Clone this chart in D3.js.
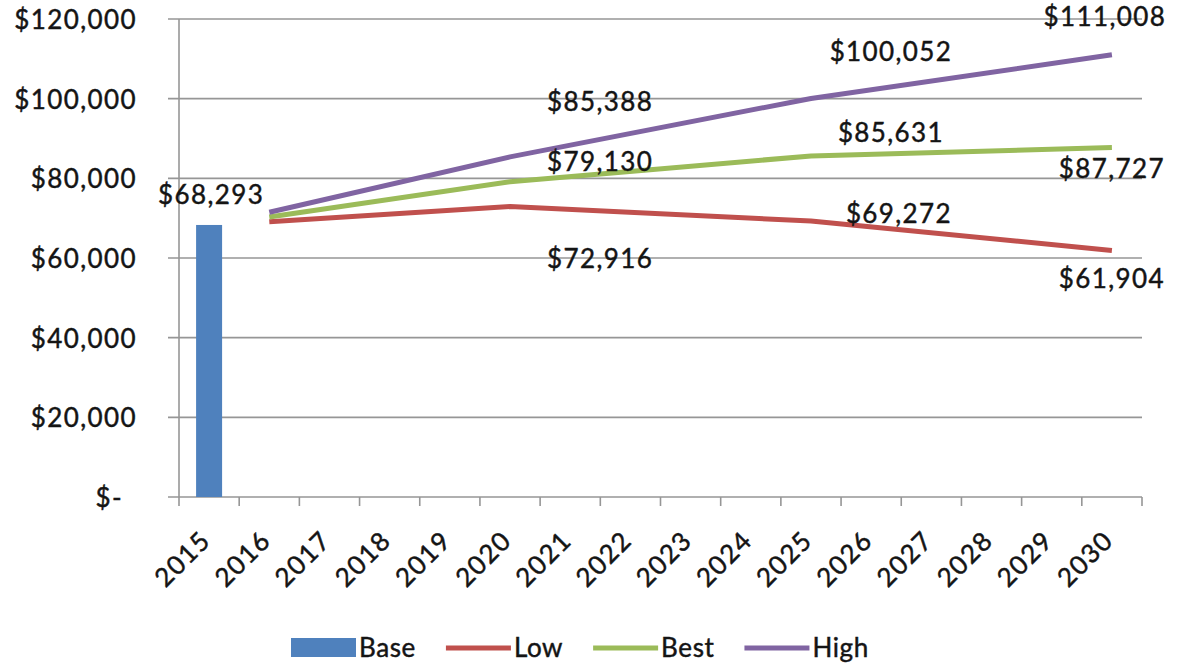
<!DOCTYPE html>
<html>
<head>
<meta charset="utf-8">
<script src="https://cdn.jsdelivr.net/npm/d3@7"></script>
<style>
  html, body { margin: 0; padding: 0; background: #fff; }
  svg { display: block; }
  text { font-family: Lato, "Open Sans", sans-serif; fill: #141414; stroke: #141414; stroke-width: 0.45px; }
</style>
</head>
<body>
<svg id="chart" width="1178" height="664"></svg>
<script>
// Categories (years on the x axis)
const years = ["2015","2016","2017","2018","2019","2020","2021","2022","2023",
               "2024","2025","2026","2027","2028","2029","2030"];

// Base year column
const baseYears = ["2015"];
const baseValues = [68293];

// Projection scenarios (points where the series is defined)
const lineYears = ["2016", "2020", "2025", "2030"];
const lowValues  = [69100, 72916, 69272, 61904];
const bestValues = [70300, 79130, 85631, 87727];
const highValues = [71500, 85388, 100052, 111008];

// Which points carry a value label
const labelYears = ["2020", "2025", "2030"];

// Y axis ticks
const yTicks = [0, 20000, 40000, 60000, 80000, 100000, 120000];

const seriesNames = ["Base", "Low", "Best", "High"];
const colors = { Base: "#4f81bd", Low: "#c0504d", Best: "#9bbb59", High: "#8064a2" };

// Label placement relative to each point (pixels), per series and year
const labelOffsets = {
  Low:  { "2020": [90, 52], "2025": [88, -7],  "2030": [0, 28] },
  Best: { "2020": [90, -20], "2025": [80, -23], "2030": [0, 21] },
  High: { "2020": [90, -55], "2025": [80, -47], "2030": [-7, -38] }
};

const svg = d3.select("#chart");
const plot = { left: 179, right: 1142, top: 19, bottom: 497 };

const x = d3.scaleBand().domain(years).range([plot.left, plot.right]).padding(0);
const y = d3.scaleLinear().domain([0, 120000]).range([plot.bottom, plot.top]);
const bw = x.bandwidth();
const cx = d => x(d) + bw / 2;

const money = d3.format(",");
const fmtMoney = v => "$" + money(v);
const fmtTick = v => v === 0 ? "$-" : fmtMoney(v);

const fontSize = 26;
const spacing = "1.4px";
const gridColor = "#969696";

// Horizontal gridlines with their tick stubs
svg.append("g").selectAll("line").data(yTicks).join("line")
  .attr("x1", plot.left - 11).attr("x2", plot.right)
  .attr("y1", d => y(d)).attr("y2", d => y(d))
  .attr("stroke", gridColor).attr("stroke-width", 1.6);

// Y tick labels
svg.append("g").selectAll("text").data(yTicks).join("text")
  .attr("x", d => d === 0 ? plot.left - 42 - 14 : plot.left - 42)
  .attr("y", d => y(d))
  .attr("dy", "0.38em")
  .attr("text-anchor", "end")
  .style("font-size", fontSize + "px")
  .style("letter-spacing", spacing)
  .text(fmtTick);

// Vertical axis line
svg.append("line")
  .attr("x1", plot.left).attr("x2", plot.left)
  .attr("y1", plot.top).attr("y2", plot.bottom)
  .attr("stroke", gridColor).attr("stroke-width", 1.6);

// Horizontal axis with ticks at category boundaries
const boundaries = years.map(d => x(d)).concat([plot.right]);
svg.append("g").selectAll("line").data(boundaries).join("line")
  .attr("x1", d => d).attr("x2", d => d)
  .attr("y1", plot.bottom).attr("y2", plot.bottom + 9)
  .attr("stroke", gridColor).attr("stroke-width", 1.6);

// Rotated year labels
svg.append("g").selectAll("text").data(years).join("text")
  .attr("text-anchor", "end")
  .attr("transform", d => `translate(${cx(d) + 3},${plot.bottom + 45}) rotate(-45)`)
  .style("font-size", fontSize + "px")
  .style("letter-spacing", spacing)
  .text(d => d);

// Base column
const barW = 26;
svg.append("g").selectAll("rect").data(baseYears.map((d, i) => ({ year: d, value: baseValues[i] })))
  .join("rect")
  .attr("x", d => cx(d.year) - barW / 2)
  .attr("y", d => y(d.value))
  .attr("width", barW)
  .attr("height", d => y(0) - y(d.value))
  .attr("fill", colors.Base);

svg.append("g").selectAll("text").data(baseYears.map((d, i) => ({ year: d, value: baseValues[i] })))
  .join("text")
  .attr("x", d => cx(d.year) + 2)
  .attr("y", d => y(d.value) - 30)
  .attr("dy", "0.36em")
  .attr("text-anchor", "middle")
  .style("font-size", fontSize + "px")
  .style("letter-spacing", spacing)
  .text(d => fmtMoney(d.value));

// Scenario lines
const lineSeries = [
  { name: "Low", values: lowValues },
  { name: "Best", values: bestValues },
  { name: "High", values: highValues }
].map(s => ({ name: s.name, points: lineYears.map((yr, i) => ({ year: yr, value: s.values[i] })) }));

const line = d3.line().x(d => cx(d.year)).y(d => y(d.value));

svg.append("g").selectAll("path").data(lineSeries).join("path")
  .attr("d", s => line(s.points))
  .attr("fill", "none")
  .attr("stroke", s => colors[s.name])
  .attr("stroke-width", 5)
  .attr("stroke-linejoin", "round");

// Value labels on the scenario lines
const labelData = lineSeries.flatMap(s =>
  s.points.filter(p => labelYears.includes(p.year)).map(p => ({ ...p, name: s.name })));

svg.append("g").selectAll("text").data(labelData).join("text")
  .attr("x", d => cx(d.year) + labelOffsets[d.name][d.year][0])
  .attr("y", d => y(d.value) + labelOffsets[d.name][d.year][1])
  .attr("dy", "0.36em")
  .attr("text-anchor", "middle")
  .style("font-size", fontSize + "px")
  .style("letter-spacing", spacing)
  .text(d => fmtMoney(d.value));

// Legend
const legend = svg.append("g");
const legendY = 648;
let lx = 0;
seriesNames.forEach(name => {
  const g = legend.append("g").attr("transform", `translate(${lx},0)`);
  if (name === "Base") {
    g.append("rect").attr("x", 0).attr("y", legendY - 10).attr("width", 65).attr("height", 19)
      .attr("fill", colors.Base);
  } else {
    g.append("line").attr("x1", 0).attr("x2", 65).attr("y1", legendY).attr("y2", legendY)
      .attr("stroke", colors[name]).attr("stroke-width", 5);
  }
  const t = g.append("text").attr("x", 68).attr("y", legendY).attr("dy", "0.36em")
    .style("font-size", fontSize + "px").style("letter-spacing", "0.6px").text(name);
  const w = t.node().getComputedTextLength();
  lx += 68 + w + 30;
});
const legendWidth = lx - 30;
legend.attr("transform", `translate(${Math.round(580 - legendWidth / 2)},0)`);
</script>
</body>
</html>
